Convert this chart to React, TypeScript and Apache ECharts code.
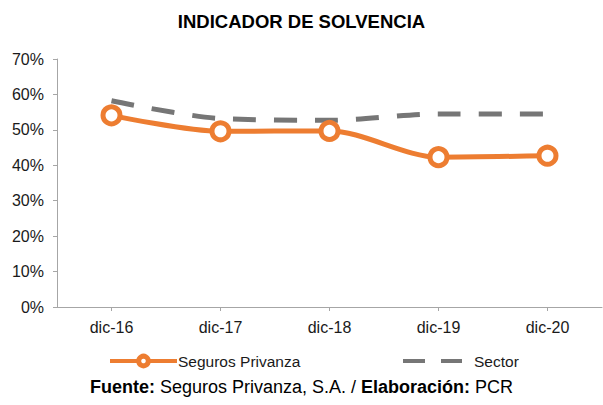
import React, { useEffect, useRef } from "react";
import * as echarts from "echarts";

const categories = ["dic-16", "dic-17", "dic-18", "dic-19", "dic-20"];
const privanza = [54.1, 49.6, 49.7, 42.3, 42.7];
const sector = [58.2, 53.2, 52.7, 54.5, 54.5];
const yTicks = [0, 10, 20, 30, 40, 50, 60, 70];

const FONT = "Liberation Sans, Arial, sans-serif";

export default function App() {
  const ref = useRef<HTMLDivElement>(null);
  useEffect(() => {
    const chart = echarts.init(ref.current!, null, { renderer: "svg" });
    chart.setOption({
      animation: false,
      textStyle: { fontFamily: FONT },
      title: {
        text: "INDICADOR DE SOLVENCIA",
        left: "center",
        top: 7,
        textStyle: { fontSize: 18.5, fontWeight: "bold", color: "#000", fontFamily: FONT },
      },
      grid: { left: 57, right: 1, top: 59, bottom: 98, containLabel: false },
      xAxis: {
        type: "category",
        data: categories,
        boundaryGap: true,
        axisLine: { lineStyle: { color: "#a6a6a6", width: 1 } },
        axisTick: { show: true, alignWithLabel: true, length: 4, lineStyle: { color: "#a6a6a6" } },
        axisLabel: { color: "#1a1a1a", fontSize: 16, margin: 12, fontFamily: FONT },
      },
      yAxis: {
        type: "value",
        min: yTicks[0],
        max: yTicks[yTicks.length - 1],
        interval: 10,
        axisLine: { show: true, lineStyle: { color: "#a6a6a6", width: 1 } },
        axisTick: { show: true, length: 4, lineStyle: { color: "#a6a6a6" } },
        splitLine: { show: false },
        axisLabel: { color: "#1a1a1a", fontSize: 16, margin: 13, formatter: "{value}%", fontFamily: FONT },
      },
      legend: [
        {
          data: ["Seguros Privanza"],
          left: 103,
          top: 348,
          itemWidth: 67,
          itemHeight: 12,
          lineStyle: { width: 4 },
          itemStyle: { borderWidth: 5 },
          textStyle: { fontSize: 15.5, color: "#1a1a1a", fontFamily: FONT, padding: [0, 0, 0, -4] },
        },
        {
          data: [
            {
              name: "Sector",
              icon: "path://M0,0h22v4h-22z M38,0h21v4h-21z",
              itemStyle: { color: "#767676" },
            },
          ],
          left: 398,
          top: 348,
          itemWidth: 59,
          itemHeight: 4,
          textStyle: { fontSize: 15.5, color: "#1a1a1a", fontFamily: FONT, padding: [0, 0, 0, 7] },
        },
      ],
      graphic: [
        {
          type: "text",
          left: "center",
          top: 378,
          style: {
            text: "{b|Fuente: }{n|Seguros Privanza, S.A. / }{b|Elaboración: }{n|PCR}",
            rich: {
              b: { fontWeight: "bold", fontSize: 18, fill: "#000", fontFamily: FONT },
              n: { fontSize: 18, fill: "#000", fontFamily: FONT },
            },
          },
        },
      ],
      series: [
        {
          name: "Sector",
          type: "line",
          data: sector,
          smooth: 0.3,
          symbol: "none",
          lineStyle: { color: "#767676", width: 5, type: [23, 18] },
          itemStyle: { color: "#767676" },
          z: 2,
        },
        {
          name: "Seguros Privanza",
          type: "line",
          data: privanza,
          smooth: 0.3,
          symbol: "circle",
          symbolSize: 17,
          lineStyle: { color: "#ED7D31", width: 5 },
          itemStyle: { color: "#fff", borderColor: "#ED7D31", borderWidth: 5 },
          z: 3,
        },
      ],
    });
    return () => chart.dispose();
  }, []);
  return (
    <div
      ref={ref}
      style={{ position: "fixed", left: 0, top: 0, width: 603, height: 405, background: "#fff" }}
    />
  );
}
